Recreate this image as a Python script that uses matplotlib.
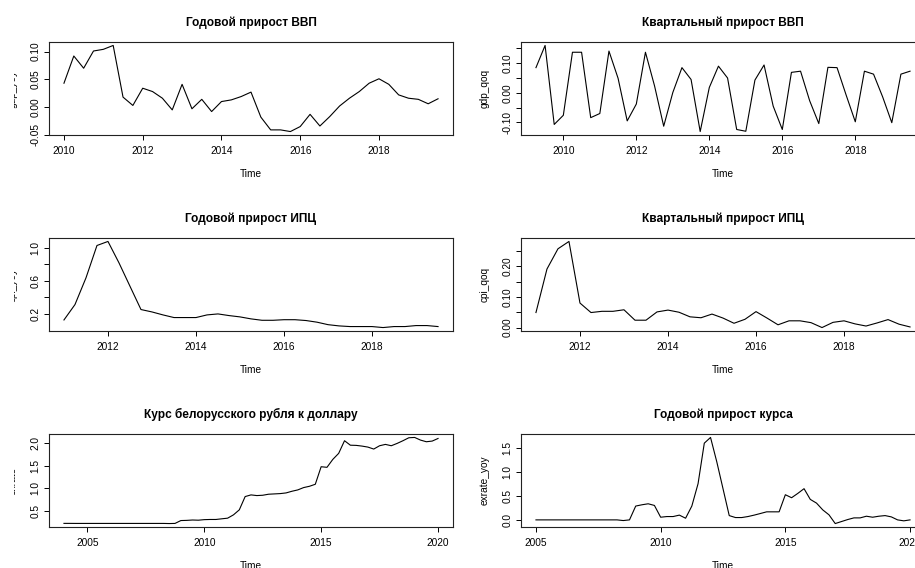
import numpy as np
import matplotlib.pyplot as plt
from matplotlib.transforms import Bbox, TransformedBbox

plt.rcParams['font.family'] = ['Liberation Sans', 'DejaVu Sans']

# quarterly series, values
gdp_yoy_start = 2010.0
gdp_yoy = [0.043, 0.092, 0.070, 0.101, 0.104, 0.111, 0.018, 0.003, 0.034, 0.028,
           0.016, -0.005, 0.041, -0.003, 0.014, -0.008, 0.010, 0.013, 0.019, 0.027,
           -0.018, -0.041, -0.041, -0.044, -0.035, -0.013, -0.034, -0.017, 0.002, 0.016,
           0.028, 0.043, 0.051, 0.041, 0.022, 0.016, 0.014, 0.006, 0.015]

gdp_qoq_start = 2009.25
gdp_qoq = [0.085, 0.160, -0.107, -0.076, 0.137, 0.137, -0.084, -0.070, 0.141, 0.049,
           -0.095, -0.038, 0.137, 0.023, -0.113, 0.001, 0.085, 0.045, -0.131, 0.018,
           0.090, 0.050, -0.124, -0.130, 0.043, 0.094, -0.045, -0.124, 0.069, 0.073,
           -0.027, -0.104, 0.086, 0.085, -0.008, -0.098, 0.073, 0.063, -0.014, -0.101,
           0.063, 0.073]

cpi_yoy_start = 2011.0
cpi_yoy = [0.127, 0.313, 0.636, 1.028, 1.077, 0.818, 0.535, 0.253, 0.224, 0.188,
           0.156, 0.156, 0.156, 0.188, 0.200, 0.180, 0.164, 0.140, 0.123, 0.123,
           0.130, 0.130, 0.120, 0.100, 0.070, 0.055, 0.047, 0.047, 0.047, 0.035,
           0.047, 0.047, 0.059, 0.059, 0.047]

cpi_qoq_start = 2011.0
cpi_qoq = [0.049, 0.191, 0.257, 0.281, 0.080, 0.049, 0.053, 0.053, 0.058, 0.024,
           0.024, 0.051, 0.057, 0.050, 0.035, 0.032, 0.044, 0.031, 0.014, 0.027,
           0.052, 0.031, 0.009, 0.022, 0.022, 0.016, 0.000, 0.017, 0.022, 0.012,
           0.005, 0.015, 0.026, 0.011, 0.002]

exrate_start = 2004.0
exrate = [0.217, 0.217, 0.216, 0.216, 0.216, 0.216, 0.216, 0.216, 0.216, 0.216,
          0.216, 0.216, 0.216, 0.216, 0.216, 0.216, 0.216, 0.216, 0.213, 0.216,
          0.280, 0.284, 0.292, 0.288, 0.300, 0.304, 0.304, 0.319, 0.333, 0.407,
          0.519, 0.815, 0.852, 0.837, 0.844, 0.867, 0.874, 0.881, 0.896, 0.933,
          0.963, 1.015, 1.044, 1.089, 1.480, 1.467, 1.644, 1.778, 2.060, 1.960,
          1.956, 1.940, 1.918, 1.874, 1.948, 1.978, 1.948, 2.000, 2.060, 2.126,
          2.133, 2.074, 2.037, 2.052, 2.110]

exrate_yoy_start = 2005.0
exrate_yoy = [0.0, 0.0, 0.0, 0.0, 0.0, 0.0, 0.0, 0.0, 0.0, 0.0,
              0.0, 0.0, 0.0, 0.0, -0.014, 0.0, 0.290, 0.317, 0.338, 0.303,
              0.056, 0.070, 0.070, 0.100, 0.035, 0.290, 0.760, 1.610, 1.730, 1.220,
              0.655, 0.090, 0.049, 0.049, 0.070, 0.100, 0.134, 0.169, 0.169, 0.169,
              0.528, 0.465, 0.556, 0.655, 0.430, 0.352, 0.210, 0.106, -0.077, -0.035,
              0.007, 0.042, 0.042, 0.077, 0.056, 0.077, 0.090, 0.063, 0.000, -0.020,
              0.000]

titles = ['Годовой прирост ВВП', 'Квартальный прирост ВВП',
          'Годовой прирост ИПЦ', 'Квартальный прирост ИПЦ',
          'Курс белорусского рубля к доллару', 'Годовой прирост курса']
ylabels = ['gdp_yoy', 'gdp_qoq', 'cpi_yoy', 'cpi_qoq', 'exrate', 'exrate_yoy']

W, H = 915, 568
fig = plt.figure(figsize=(W / 100, H / 100), dpi=100)

def px_axes(left, top, width=404, height=93):
    return fig.add_axes([left / W, 1 - (top + height) / H, width / W, height / H])

series = [
    (gdp_yoy_start, gdp_yoy, [2010, 2012, 2014, 2016, 2018],
     [-0.05, 0.0, 0.05, 0.10], ['-0.05', '0.00', '0.05', '0.10']),
    (gdp_qoq_start, gdp_qoq, [2010, 2012, 2014, 2016, 2018],
     [-0.10, -0.05, 0.0, 0.05, 0.10, 0.15], ['-0.10', '', '0.00', '', '0.10', '']),
    (cpi_yoy_start, cpi_yoy, [2012, 2014, 2016, 2018],
     [0.2, 0.4, 0.6, 0.8, 1.0], ['0.2', '', '0.6', '', '1.0']),
    (cpi_qoq_start, cpi_qoq, [2012, 2014, 2016, 2018],
     [0.0, 0.05, 0.10, 0.15, 0.20, 0.25], ['0.00', '', '0.10', '', '0.20', '']),
    (exrate_start, exrate, [2005, 2010, 2015, 2020],
     [0.5, 1.0, 1.5, 2.0], ['0.5', '1.0', '1.5', '2.0']),
    (exrate_yoy_start, exrate_yoy, [2005, 2010, 2015, 2020],
     [0.0, 0.5, 1.0, 1.5], ['0.0', '0.5', '1.0', '1.5']),
]

lefts = [49, 521]
tops = [42, 238, 434]
clip_left = TransformedBbox(Bbox([[13.5 / W, 0], [1, 1]]), fig.transFigure)

for i, (start, vals, xt, yt, ytl) in enumerate(series):
    row, col = divmod(i, 2)
    ax = px_axes(lefts[col], tops[row])
    t = start + 0.25 * np.arange(len(vals))
    ax.plot(t, vals, color='black', lw=0.8)
    ax.margins(x=0.04, y=0.04)
    ax.set_xticks(xt)
    ax.set_yticks(yt)
    ax.set_yticklabels(ytl)
    ax.tick_params(direction='out', length=3.6, width=0.7, labelsize=7.3, colors='black')
    ax.tick_params(axis='x', pad=4.5)
    ax.tick_params(axis='y', pad=2.5, labelrotation=90)
    for lab in ax.get_yticklabels():
        lab.set_va('center')
    for s in ax.spines.values():
        s.set_linewidth(0.8)
        s.set_color('#222222')
    ax.set_title(titles[i], fontsize=8.6, fontweight='bold', pad=11.5)
    ax.text(0.5, -39 / 93, 'Time', transform=ax.transAxes, ha='center', va='center',
            fontsize=7.3)
    yl = ax.text(-36.7 / 404, 0.5, ylabels[i], transform=ax.transAxes, rotation=90,
                 ha='center', va='center', fontsize=7.3)
    if col == 0:
        yl.set_clip_box(clip_left)
        yl.set_clip_on(True)

fig.savefig('out.png', dpi=100)
